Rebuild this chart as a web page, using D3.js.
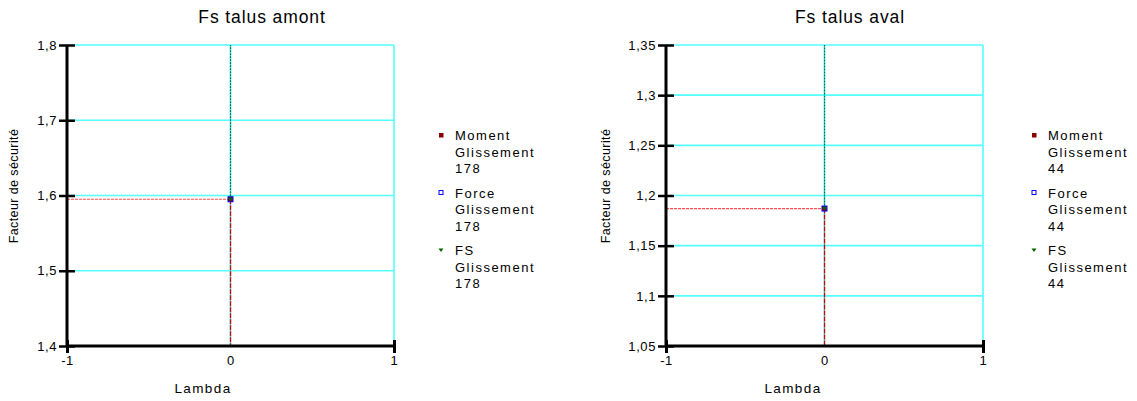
<!DOCTYPE html>
<html>
<head>
<meta charset="utf-8">
<script src="https://cdn.jsdelivr.net/npm/d3@7/dist/d3.min.js"></script>
<style>
  html, body { margin: 0; padding: 0; background: #fff; }
  svg { display: block; }
  text { font-family: "Liberation Sans", Arial, sans-serif; fill: #000; }
</style>
</head>
<body>
<svg id="chart" width="1137" height="401"></svg>
<script>
// ---- data ----
const lambdaValues = [0];
const amontMoment = [1.595];
const amontForce = [1.595];
const amontFS = [1.595];
const avalMoment = [1.187];
const avalForce = [1.187];
const avalFS = [1.187];
const xTickValues = [-1, 0, 1];
const xTickLabels = ["-1", "0", "1"];
const amontYTicks = [1.4, 1.5, 1.6, 1.7, 1.8];
const amontYTickLabels = ["1,4", "1,5", "1,6", "1,7", "1,8"];
const avalYTicks = [1.05, 1.1, 1.15, 1.2, 1.25, 1.3, 1.35];
const avalYTickLabels = ["1,05", "1,1", "1,15", "1,2", "1,25", "1,3", "1,35"];
const seriesNames = ["Moment", "Force", "FS"];
const amontSurface = "178";
const avalSurface = "44";
const titles = ["Fs talus amont", "Fs talus aval"];
const xLabel = "Lambda";
const yLabel = "Facteur de sécurité";

// ---- layout ----
const charts = [
  { title: titles[0], moment: amontMoment, force: amontForce, fs: amontFS,
    yTicks: amontYTicks, yLabels: amontYTickLabels, surface: amontSurface,
    left: 67, right: 394, top: 45, bottom: 346,
    titleX: 262, yLabelX: 14, xLabelX: 203, legendX: 441 },
  { title: titles[1], moment: avalMoment, force: avalForce, fs: avalFS,
    yTicks: avalYTicks, yLabels: avalYTickLabels, surface: avalSurface,
    left: 666, right: 983, top: 45, bottom: 346,
    titleX: 850, yLabelX: 606, xLabelX: 793, legendX: 1034 }
];

const svg = d3.select("#chart");
const gridColor = "#55ffff";

charts.forEach(c => {
  const g = svg.append("g");
  const x = d3.scaleLinear().domain([xTickValues[0], xTickValues[xTickValues.length - 1]]).range([c.left, c.right]);
  const y = d3.scaleLinear().domain([c.yTicks[0], c.yTicks[c.yTicks.length - 1]]).range([c.bottom, c.top]);

  // title
  g.append("text").attr("x", c.titleX).attr("y", 23).attr("text-anchor", "middle")
    .style("font-size", "17.5px").style("letter-spacing", "0.9px").text(c.title);

  // grid
  const grid = g.append("g");
  grid.selectAll("line.h").data(c.yTicks.slice(1)).join("line")
    .attr("x1", c.left).attr("x2", c.right)
    .attr("y1", d => y(d)).attr("y2", d => y(d))
    .attr("stroke", gridColor).attr("stroke-width", 1.6);
  grid.selectAll("line.v").data(xTickValues.slice(1)).join("line")
    .attr("x1", d => x(d)).attr("x2", d => x(d))
    .attr("y1", c.top).attr("y2", c.bottom)
    .attr("stroke", gridColor).attr("stroke-width", 1.6);

  // series reference lines
  const px = x(lambdaValues[0]);
  const py = y(c.fs[0]);
  const my0 = y(c.moment[0]);
  g.append("line").attr("x1", c.left).attr("x2", px).attr("y1", my0).attr("y2", my0)
    .attr("stroke", "#ff5050").attr("stroke-width", 1.2).attr("stroke-dasharray", "3,1");
  g.append("line").attr("x1", px).attr("x2", px).attr("y1", my0).attr("y2", c.bottom)
    .attr("stroke", "#d00000").attr("stroke-width", 1.3).attr("stroke-dasharray", "5,1");
  g.append("line").attr("x1", px).attr("x2", px).attr("y1", py).attr("y2", c.top)
    .attr("stroke", "#006a50").attr("stroke-width", 1.2).attr("stroke-dasharray", "2,1");

  // axes
  const yAxis = d3.axisLeft(y).tickValues(c.yTicks).tickFormat((d, i) => c.yLabels[i]).tickSize(0).tickPadding(10);
  const ya = g.append("g").attr("transform", `translate(${c.left},0)`).call(yAxis);
  ya.select(".domain").remove();
  ya.selectAll("text").style("font-size", "13px").style("letter-spacing", "0.6px")
    .style("font-family", '"Liberation Sans", Arial, sans-serif').attr("fill", "#000");
  ya.selectAll(".tick").append("line").attr("x1", -8).attr("x2", 8)
    .attr("stroke", "#000").attr("stroke-width", 2.5);

  const xAxis = d3.axisBottom(x).tickValues(xTickValues).tickFormat((d, i) => xTickLabels[i]).tickSize(0).tickPadding(10);
  const xa = g.append("g").attr("transform", `translate(0,${c.bottom})`).call(xAxis);
  xa.select(".domain").remove();
  xa.selectAll("text").style("font-size", "13px").style("letter-spacing", "0.6px")
    .style("font-family", '"Liberation Sans", Arial, sans-serif').attr("fill", "#000");
  xa.selectAll(".tick").filter((d, i) => i === 0 || i === xTickValues.length - 1)
    .append("line").attr("y1", -6).attr("y2", 7).attr("stroke", "#000").attr("stroke-width", 3);

  g.append("line").attr("x1", c.left).attr("x2", c.left).attr("y1", c.top).attr("y2", c.bottom + 1)
    .attr("stroke", "#000").attr("stroke-width", 3);
  g.append("line").attr("x1", c.left).attr("x2", c.right).attr("y1", c.bottom).attr("y2", c.bottom)
    .attr("stroke", "#000").attr("stroke-width", 3);

  // markers
  const sq = 5;
  g.append("rect").attr("x", px - sq / 2).attr("y", y(c.moment[0]) - sq / 2).attr("width", sq).attr("height", sq)
    .attr("fill", "#8b0000");
  g.append("rect").attr("x", px - sq / 2).attr("y", y(c.force[0]) - sq / 2).attr("width", sq).attr("height", sq)
    .attr("fill", "none").attr("stroke", "#0000ff").attr("stroke-width", 1);
  g.append("path").attr("d", `M${px - 2.5},${py - 1.5}L${px + 2.5},${py - 1.5}L${px},${py + 2}Z`).attr("fill", "#006400");

  // axis titles
  g.append("text").attr("x", c.xLabelX).attr("y", 393).attr("text-anchor", "middle")
    .style("font-size", "13.5px").style("letter-spacing", "1.4px").text(xLabel);
  g.append("text").attr("transform", `translate(${c.yLabelX + 4},186) rotate(-90)`).attr("text-anchor", "middle")
    .style("font-size", "12.5px").style("letter-spacing", "0.4px").text(yLabel);

  // legend
  const lg = g.append("g");
  seriesNames.forEach((name, i) => {
    const base = 140 + i * 57.5;
    const lines = [name, "Glissement", c.surface];
    lines.forEach((t, j) => {
      lg.append("text").attr("x", c.legendX + 14).attr("y", base + j * 16.5)
        .style("font-size", "13px").style("letter-spacing", "1.5px").text(t);
    });
    const mx = c.legendX, my = base - 5;
    if (i === 0) {
      lg.append("rect").attr("x", mx - 2).attr("y", my - 2).attr("width", 4.5).attr("height", 4.5).attr("fill", "#8b0000");
    } else if (i === 1) {
      lg.append("rect").attr("x", mx - 2).attr("y", my - 2).attr("width", 4).attr("height", 4)
        .attr("fill", "none").attr("stroke", "#0000ff").attr("stroke-width", 1);
    } else {
      lg.append("path").attr("d", `M${mx - 2.5},${my - 1.5}L${mx + 2.5},${my - 1.5}L${mx},${my + 2}Z`).attr("fill", "#006400");
    }
  });
});
</script>
</body>
</html>
